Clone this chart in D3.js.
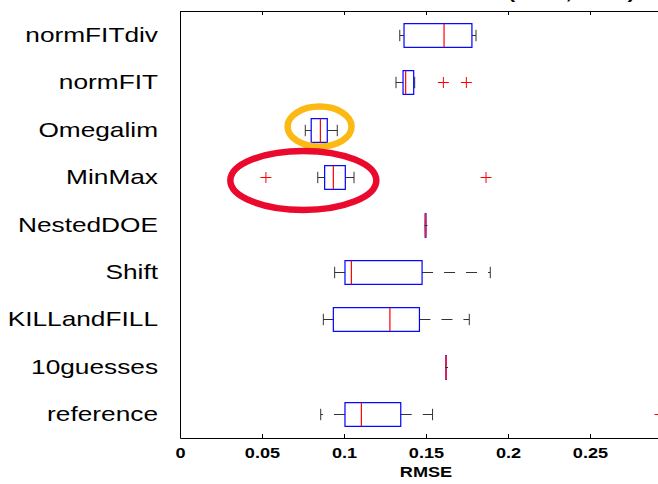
<!DOCTYPE html>
<html>
<head>
<meta charset="utf-8">
<script src="https://cdn.jsdelivr.net/npm/d3@7"></script>
<style>
  body { margin: 0; background: #fff; }
  svg { display: block; overflow: hidden; }
</style>
</head>
<body>
<div id="chart"></div>
<script>
// categories from top to bottom
const categories = ["normFITdiv", "normFIT", "Omegalim", "MinMax", "NestedDOE", "Shift", "KILLandFILL", "10guesses", "reference"];
const whiskerLow  = [0.1340, 0.1317, 0.0764, 0.0840, 0.1496, 0.0943, 0.0874, 0.1621, 0.0858];
const quart1      = [0.1366, 0.1360, 0.0800, 0.0882, 0.1496, 0.1006, 0.0935, 0.1621, 0.1006];
const medians     = [0.1610, 0.1376, 0.0856, 0.0935, 0.1497, 0.1045, 0.1280, 0.1622, 0.1106];
const quart3      = [0.1780, 0.1425, 0.0898, 0.1008, 0.1498, 0.1476, 0.1460, 0.1623, 0.1346];
const whiskerHigh = [0.1805, 0.1431, 0.0959, 0.1061, 0.1498, 0.1892, 0.1764, 0.1623, 0.1540];
const outliers    = [[], [0.1606, 0.1746], [], [0.0524, 0.1866], [], [], [], [], [0.2927]];

const xTicks = [0, 0.05, 0.1, 0.15, 0.2, 0.25];
const xTickLabels = ["0", "0.05", "0.1", "0.15", "0.2", "0.25"];
const xDomain = [0, 0.3];

// hand-drawn highlight rings: centre value, category, horizontal radius (in RMSE)
const rings = [
    { category: "Omegalim", value: 0.0851, rx: 0.0195, color: "#fdb913" },
    { category: "MinMax", value: 0.0752, rx: 0.0445, color: "#ea0a2e" }
];

const width = 658, height = 484;
const plot = { left: 180, right: 672, top: 11, bottom: 438 };
const stretch = 1.25; // text in the picture is widened

const svg = d3.select("#chart").append("svg")
    .attr("width", width)
    .attr("height", height);

const x = d3.scaleLinear().domain(xDomain).range([plot.left, plot.right]);
const y = d3.scaleBand().domain(categories).range([plot.top, plot.bottom]);
const cy = c => y(c) + y.bandwidth() / 2;
const boxH = y.bandwidth() * 0.5;
const capH = y.bandwidth() * 0.24;

// bottom axis, ticks inside
const bottomAxis = svg.append("g")
    .attr("transform", `translate(0,${plot.bottom})`)
    .call(d3.axisBottom(x).tickValues(xTicks).tickSizeInner(-4).tickSizeOuter(0)
        .tickFormat((d, i) => xTickLabels[i]));
bottomAxis.selectAll("path, line").attr("stroke", "#000");
bottomAxis.selectAll("text")
    .attr("y", 0).attr("dy", null)
    .attr("transform", `translate(0,20) scale(${stretch},1)`)
    .attr("font-family", "Liberation Sans, Arial, sans-serif")
    .attr("font-weight", "bold")
    .attr("font-size", 14.5)
    .attr("fill", "#000");

// top border with inward ticks
const topAxis = svg.append("g")
    .attr("transform", `translate(0,${plot.top})`)
    .call(d3.axisTop(x).tickValues(xTicks).tickSizeInner(-4).tickSizeOuter(0).tickFormat(""));
topAxis.selectAll("path, line").attr("stroke", "#000");

// left border
svg.append("line")
    .attr("x1", plot.left + 0.5).attr("x2", plot.left + 0.5)
    .attr("y1", plot.top).attr("y2", plot.bottom + 0.5)
    .attr("stroke", "#000");

// category labels
svg.append("g").selectAll("text")
    .data(categories)
    .join("text")
    .attr("transform", d => `translate(158,${cy(d) + 7}) scale(${stretch},1)`)
    .attr("text-anchor", "end")
    .attr("font-family", "Liberation Sans, Arial, sans-serif")
    .attr("font-size", 21)
    .attr("fill", "#000")
    .text(d => d);

// x label
svg.append("text")
    .attr("transform", `translate(${(plot.left + plot.right) / 2},477) scale(${stretch},1)`)
    .attr("text-anchor", "middle")
    .attr("font-family", "Liberation Sans, Arial, sans-serif")
    .attr("font-weight", "bold")
    .attr("font-size", 14.5)
    .text("RMSE");

// title, mostly cut off at the top
svg.append("text")
    .attr("transform", `translate(508,-1) scale(${stretch},1)`)
    .attr("font-family", "Liberation Sans, Arial, sans-serif")
    .attr("font-weight", "bold")
    .attr("font-size", 17.4)
    .text("(n = 5, d = 2)");

// boxes
const rows = categories.map((c, i) => ({
    c, lo: whiskerLow[i], q1: quart1[i], med: medians[i], q3: quart3[i], hi: whiskerHigh[i], out: outliers[i]
}));

const g = svg.append("g");
rows.forEach(r => {
    const yc = Math.round(cy(r.c)) + 0.5;
    const flat = r.q3 - r.q1 < 0.001;
    // whiskers
    [[r.q1, r.lo], [r.q3, r.hi]].forEach(([from, to]) => {
        g.append("line")
            .attr("x1", x(from)).attr("x2", x(to))
            .attr("y1", yc).attr("y2", yc)
            .attr("stroke", "#333")
            .attr("stroke-dasharray", "11,11");
        g.append("line")
            .attr("x1", x(to)).attr("x2", x(to))
            .attr("y1", yc - capH / 2).attr("y2", yc + capH / 2)
            .attr("stroke", "#333");
    });
    g.append("rect")
        .attr("x", x(r.q1))
        .attr("y", yc - boxH / 2)
        .attr("width", Math.max(x(r.q3) - x(r.q1), 0.5))
        .attr("height", boxH)
        .attr("fill", "none")
        .attr("stroke", "#0000ff")
        .attr("stroke-width", 1.2);
    g.append("line")
        .attr("x1", x(r.med)).attr("x2", x(r.med))
        .attr("y1", yc - boxH / 2).attr("y2", yc + boxH / 2)
        .attr("stroke", flat ? "#d0245e" : "#ff0000")
        .attr("stroke-width", flat ? 2 : 1.2);
    if (flat) {
        g.append("line")
            .attr("x1", x(r.med) - 1).attr("x2", x(r.med) + 2)
            .attr("y1", yc).attr("y2", yc)
            .attr("stroke", "#333");
    }
    g.selectAll(null)
        .data(r.out)
        .join("path")
        .attr("transform", d => `translate(${x(d)},${yc})`)
        .attr("d", "M-5.5,0H5.5M0,-5.5V5.5")
        .attr("stroke", "#ff0000")
        .attr("fill", "none");
});

// highlight rings
svg.append("g").selectAll("ellipse")
    .data(rings)
    .join("ellipse")
    .attr("cx", d => x(d.value))
    .attr("cy", (d, i) => cy(d.category) + (i === 0 ? -3 : 3.4))
    .attr("rx", d => x(d.value + d.rx) - x(d.value))
    .attr("ry", (d, i) => i === 0 ? 20 : 29.5)
    .attr("fill", "none")
    .attr("stroke", d => d.color)
    .attr("stroke-width", 6.5);
</script>
</body>
</html>
